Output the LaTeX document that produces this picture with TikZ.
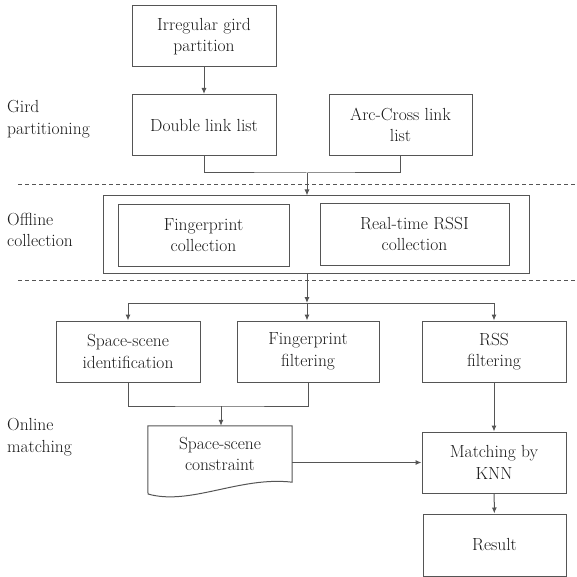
\documentclass[tikz,border=0pt]{standalone}
\usetikzlibrary{arrows.meta}
\definecolor{linegray}{HTML}{555555}
\definecolor{textgray}{HTML}{1A1A1A}
\tikzset{
  every node/.style={font=\rmfamily\fontsize{17.5}{21.5}\selectfont},
  box/.style={draw=linegray, line width=1pt, align=center, text=textgray,
    minimum width=144pt, minimum height=61pt, inner sep=2pt},
  stage/.style={align=left, anchor=west, text=textgray, inner sep=0pt},
  link/.style={draw=linegray, line width=1pt},
  flow/.style={link, -{Latex[length=6pt,width=5pt]}},
  sep/.style={draw=linegray, line width=0.9pt, dash pattern=on 4pt off 3pt}
}
\begin{document}
\begin{tikzpicture}[x=1pt,y=-1pt]
\useasboundingbox (0,0) rectangle (576,577);

% stage labels
\node[stage] (gird) at (7,119) {Gird\\partitioning};
\node[stage] (offline) at (7,230) {Offline\\collection};
\node[stage] (online) at (7,437) {Online\\matching};

\draw[sep] (18,184) -- (576,184);
\draw[sep] (18,280) -- (576,280);

% gird partitioning
\node[box] (irr) at (204,36.5) {Irregular gird\\partition};
\node[box] (dll) at (204,125) {Double link list};
\node[box, minimum width=143pt] (arc) at (400.5,125) {Arc-Cross link\\list};

% offline collection
\node[box, minimum width=426pt, minimum height=77pt] (outer) at (316,234.5) {};
\node[box, minimum width=171pt, minimum height=62pt] (fpc) at (203.5,235) {Fingerprint\\collection};
\node[box, minimum width=189pt, minimum height=62pt] (rtr) at (414.5,234) {Real-time RSSI\\collection};

% online matching
\node[box] (ssi) at (128,351.5) {Space-scene\\identification};
\node[box, minimum width=142pt] (fpf) at (308,351.5) {Fingerprint\\filtering};
\node[box] (rss) at (494,351.5) {RSS\\filtering};
\node[align=center, text=textgray, minimum width=144pt, minimum height=56pt, inner sep=2pt] (doc) at (220,454) {Space-scene\\constraint};
\draw[link] (doc.north west) -- (doc.north east) -- (doc.south east)
  .. controls (240,476) and (190,506) .. (148,494) -- cycle;
\node[box] (mat) at (494,462.5) {Matching by\\KNN};
\node[box, minimum width=143pt, minimum height=62pt] (res) at (494.5,545) {Result};

\coordinate (join1) at (307,173);
\coordinate (split) at (307,303);
\coordinate (join2) at (221,406);

\draw[flow] (irr) -- (dll);
\draw[link] (dll.south) |- (join1) -| (arc.south);
\draw[flow] (join1) -- (join1 |- outer.north);
\draw[flow] (outer.south -| split) -- (split);
\draw[flow] (split) -- (split |- fpf.north);
\draw[flow] (split) -| (ssi.north);
\draw[flow] (split) -| (rss.north);
\draw[link] (ssi.south) |- (join2) -| (fpf.south);
\draw[flow] (join2) -- (join2 |- doc.north);
\draw[flow] (doc.east |- mat.west) -- (mat.west);
\draw[flow] (rss) -- (mat);
\draw[flow] (mat) -- (res);
\end{tikzpicture}
\end{document}
